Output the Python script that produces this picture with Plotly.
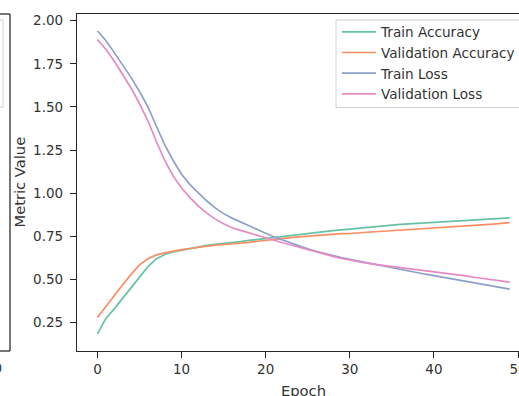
import plotly.graph_objects as go

W, H = 519, 396

epochs = list(range(50))

train_acc = [0.185, 0.275, 0.33, 0.39, 0.45, 0.515, 0.575, 0.62, 0.645, 0.66,
             0.67, 0.678, 0.687, 0.698, 0.704, 0.708, 0.714, 0.72, 0.727, 0.733,
             0.739, 0.745, 0.751, 0.757, 0.763, 0.769, 0.774, 0.779, 0.784, 0.788,
             0.793, 0.797, 0.802, 0.807, 0.812, 0.817, 0.82, 0.823, 0.826, 0.829,
             0.831, 0.834, 0.836, 0.838, 0.841, 0.844, 0.846, 0.849, 0.855, 0.857]

val_acc = [0.28, 0.345, 0.41, 0.47, 0.53, 0.585, 0.62, 0.643, 0.655, 0.665,
           0.673, 0.68, 0.687, 0.694, 0.699, 0.703, 0.706, 0.71, 0.716, 0.722,
           0.728, 0.733, 0.738, 0.743, 0.747, 0.751, 0.755, 0.759, 0.764, 0.766,
           0.767, 0.769, 0.773, 0.777, 0.78, 0.783, 0.786, 0.789, 0.792, 0.795,
           0.797, 0.80, 0.805, 0.81, 0.812, 0.815, 0.818, 0.821, 0.826, 0.83]

train_loss = [1.94, 1.885, 1.815, 1.745, 1.67, 1.59, 1.50, 1.39, 1.28, 1.19,
              1.11, 1.05, 1.00, 0.955, 0.915, 0.882, 0.856, 0.833, 0.81, 0.79,
              0.768, 0.747, 0.729, 0.711, 0.694, 0.678, 0.664, 0.651, 0.639, 0.627,
              0.617, 0.607, 0.597, 0.587, 0.577, 0.567, 0.557, 0.548, 0.539, 0.531,
              0.523, 0.514, 0.505, 0.497, 0.487, 0.478, 0.471, 0.464, 0.455, 0.445]

val_loss = [1.89, 1.835, 1.765, 1.69, 1.61, 1.52, 1.42, 1.30, 1.19, 1.10,
            1.03, 0.975, 0.925, 0.885, 0.85, 0.823, 0.80, 0.785, 0.77, 0.755,
            0.741, 0.727, 0.713, 0.70, 0.686, 0.673, 0.66, 0.647, 0.634, 0.622,
            0.612, 0.603, 0.595, 0.588, 0.582, 0.576, 0.57, 0.564, 0.558, 0.553,
            0.547, 0.542, 0.536, 0.528, 0.52, 0.512, 0.505, 0.498, 0.49, 0.485]

names = ["Train Accuracy", "Validation Accuracy", "Train Loss", "Validation Loss"]
colors = ["#66c2a5", "#fc8d62", "#8da0cb", "#e78ac3"]
series = [train_acc, val_acc, train_loss, val_loss]

y_ticks = [0.25, 0.50, 0.75, 1.00, 1.25, 1.50, 1.75, 2.00]
x_ticks = [0, 10, 20, 30, 40, 50]

INK = "#262626"
TXT = "#333333"
FONT = "DejaVu Sans"

fig = go.Figure()
for n, c, s in zip(names, colors, series):
    fig.add_trace(go.Scatter(x=epochs, y=s, mode="lines", name=n,
                             line=dict(color=c, width=1.7)))

def px(x):
    return x / W

def py(y):
    return 1 - y / H

fig.update_layout(
    width=W, height=H,
    margin=dict(l=0, r=0, t=0, b=0, autoexpand=False),
    paper_bgcolor="white", plot_bgcolor="white",
    font=dict(family=FONT, size=13.5, color=TXT),
    showlegend=True,
    legend=dict(x=px(337), y=py(16.5), xanchor="left", yanchor="top",
                borderwidth=0, bgcolor="rgba(0,0,0,0)",
                font=dict(family=FONT, size=13.6, color=TXT),
                itemwidth=34),
    xaxis=dict(domain=[px(77), 1], range=[-2.43, 50.11],
               tickvals=x_ticks, ticktext=[str(v) for v in x_ticks],
               showgrid=False, zeroline=False,
               showline=True, mirror=True, linecolor=INK, linewidth=1.25,
               ticks="outside", ticklen=6, tickwidth=1.25, tickcolor=INK,
               ticklabeloverflow="allow",
               tickfont=dict(family=FONT, size=13.5, color=TXT)),
    yaxis=dict(domain=[py(351), py(14)], range=[0.086, 2.0388],
               tickvals=y_ticks, ticktext=[f"{v:.2f}" for v in y_ticks],
               showgrid=False, zeroline=False,
               showline=True, mirror=False, linecolor=INK, linewidth=1.25,
               ticks="outside", ticklen=6, tickwidth=1.25, tickcolor=INK,
               ticklabelstandoff=4,
               tickfont=dict(family=FONT, size=13.5, color=TXT)),
)

# legend frame (extends past the cropped right edge, like the reference)
fig.add_shape(type="rect", xref="paper", yref="paper", layer="above",
              x0=px(336), x1=px(526), y0=py(107.5), y1=py(20),
              line=dict(color="#d0d0d0", width=1),
              fillcolor="rgba(255,255,255,0.8)")

# axis titles
fig.add_annotation(text="Epoch", xref="x", yref="paper", x=24.5, y=py(380),
                   xanchor="center", yanchor="top", showarrow=False,
                   font=dict(family=FONT, size=14.7, color=TXT))
fig.add_annotation(text="Metric Value", xref="paper", yref="paper",
                   x=px(19), y=py(182.5), textangle=-90,
                   xanchor="center", yanchor="middle", showarrow=False,
                   font=dict(family=FONT, size=14.7, color=TXT))

# neighbouring (cropped) panel on the left edge
frame = dict(color=INK, width=1.25)
fig.add_shape(type="line", xref="paper", yref="paper",
              x0=px(10), x1=px(10), y0=py(14), y1=py(351), line=frame)
fig.add_shape(type="line", xref="paper", yref="paper",
              x0=px(-5), x1=px(10), y0=py(14), y1=py(14), line=frame)
fig.add_shape(type="line", xref="paper", yref="paper",
              x0=px(-5), x1=px(10), y0=py(351), y1=py(351), line=frame)
fig.add_shape(type="rect", xref="paper", yref="paper",
              x0=px(-20), x1=px(3), y0=py(107), y1=py(20),
              line=dict(color="#d0d0d0", width=1), fillcolor="white")
fig.add_annotation(text="50", xref="paper", yref="paper", x=px(4), y=py(368),
                   xanchor="right", yanchor="middle", showarrow=False,
                   font=dict(family=FONT, size=13.5, color=TXT))

fig.write_html("out.html")
